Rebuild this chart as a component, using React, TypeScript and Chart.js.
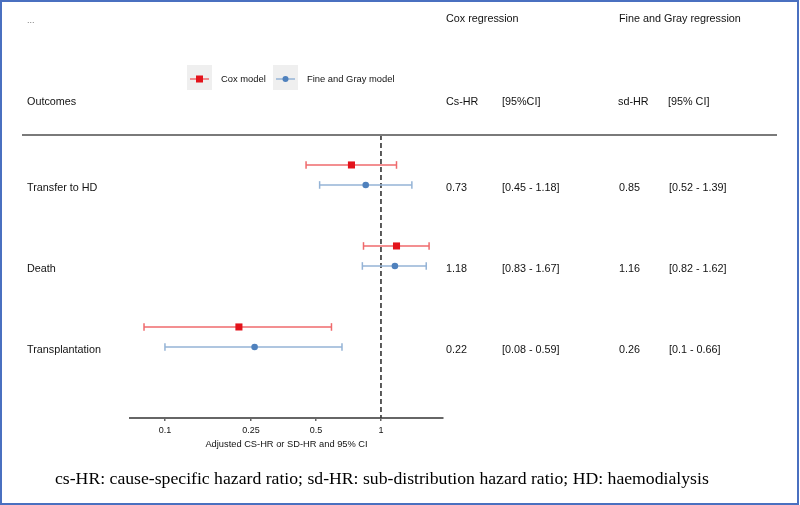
import React, { useEffect, useRef } from "react";
import { Chart, registerables } from "chart.js";

Chart.register(...registerables);

// ---- data ----
const outcomes = ["Transfer to HD", "Death", "Transplantation"];
const coxHR = [0.73, 1.18, 0.22];
const coxLow = [0.45, 0.83, 0.08];
const coxHigh = [1.18, 1.67, 0.59];
const fgHR = [0.85, 1.16, 0.26];
const fgLow = [0.52, 0.82, 0.1];
const fgHigh = [1.39, 1.62, 0.66];
const xTicks = [0.1, 0.25, 0.5, 1];
const seriesNames = ["Cox model", "Fine and Gray model"];
const xTitle = "Adjusted CS-HR or SD-HR and 95% CI";
const caption =
  "cs-HR: cause-specific hazard ratio; sd-HR: sub-distribution hazard ratio; HD: haemodialysis";

// ---- style constants ----
const SANS = "'Liberation Sans', Arial, sans-serif";
const SERIF = "'Liberation Serif', 'Times New Roman', serif";
const RED = "#e3131b";
const RED_LINE = "#ef6a6c";
const BLUE = "#4f81bd";
const BLUE_LINE = "#94b3d6";
const TEXT = "#121212";
const COX_OFF = 0.37;
const FG_OFF = 0.617;
const LABEL_OFF = 0.66;
const Y_MAX = 3.494;

export default function App() {
  const ref = useRef<HTMLCanvasElement | null>(null);

  useEffect(() => {
    document.body.style.margin = "0";
    const canvas = ref.current;
    if (!canvas) return;

    const ciDatasets: any[] = [];
    const addCI = (lo: number[], hi: number[], off: number, color: string) => {
      lo.forEach((l, i) => {
        ciDatasets.push({
          type: "scatter",
          showLine: true,
          data: [
            { x: l, y: i + off },
            { x: hi[i], y: i + off },
          ],
          borderColor: color,
          borderWidth: 1.5,
          pointStyle: "line",
          rotation: 90,
          pointRadius: 3.8,
          pointBorderColor: color,
          pointBorderWidth: 1.5,
          order: 2,
        });
      });
    };
    addCI(coxLow, coxHigh, COX_OFF, RED_LINE);
    addCI(fgLow, fgHigh, FG_OFF, BLUE_LINE);

    const fmt = (v: number) => String(v);

    const textPlugin = {
      id: "forestText",
      afterDraw(chart: any) {
        const ctx: CanvasRenderingContext2D = chart.ctx;
        const y = chart.scales.y;
        const area = chart.chartArea;
        ctx.save();

        // header separator line
        ctx.strokeStyle = "#7a7a7a";
        ctx.lineWidth = 2;
        ctx.beginPath();
        ctx.moveTo(22, area.top);
        ctx.lineTo(777, area.top);
        ctx.stroke();

        ctx.textBaseline = "middle";
        ctx.textAlign = "left";

        ctx.fillStyle = "#777";
        ctx.font = `9px ${SANS}`;
        ctx.fillText("...", 27, 21);

        ctx.fillStyle = TEXT;
        ctx.font = `10.8px ${SANS}`;
        ctx.fillText("Cox regression", 446, 19);
        ctx.fillText("Fine and Gray regression", 619, 19);
        ctx.fillText("Outcomes", 27, 102);
        ctx.fillText("Cs-HR", 446, 102);
        ctx.fillText("[95%CI]", 502, 102);
        ctx.fillText("sd-HR", 618, 102);
        ctx.fillText("[95% CI]", 668, 102);

        outcomes.forEach((name, i) => {
          const py = y.getPixelForValue(i + LABEL_OFF);
          ctx.fillText(name, 27, py);
          ctx.fillText(fmt(coxHR[i]), 446, py);
          ctx.fillText(`[${fmt(coxLow[i])} - ${fmt(coxHigh[i])}]`, 502, py);
          ctx.fillText(fmt(fgHR[i]), 619, py);
          ctx.fillText(`[${fmt(fgLow[i])} - ${fmt(fgHigh[i])}]`, 669, py);
        });

        // legend
        const drawKey = (bx: number, color: string, lineColor: string, shape: string, label: string) => {
          ctx.fillStyle = "#efefef";
          ctx.fillRect(bx, 65, 25, 25);
          ctx.strokeStyle = lineColor;
          ctx.lineWidth = 1.5;
          ctx.beginPath();
          ctx.moveTo(bx + 3, 79);
          ctx.lineTo(bx + 22, 79);
          ctx.stroke();
          ctx.fillStyle = color;
          if (shape === "rect") {
            ctx.fillRect(bx + 9, 75.5, 7, 7);
          } else {
            ctx.beginPath();
            ctx.arc(bx + 12.5, 79, 3, 0, Math.PI * 2);
            ctx.fill();
          }
          ctx.fillStyle = TEXT;
          ctx.font = `9.4px ${SANS}`;
          ctx.fillText(label, bx + 34, 79);
        };
        drawKey(187, RED, RED_LINE, "rect", seriesNames[0]);
        drawKey(273, BLUE, BLUE_LINE, "circle", seriesNames[1]);

        // caption
        ctx.fillStyle = "#000";
        ctx.font = `17.7px ${SERIF}`;
        ctx.fillText(caption, 55, 479);

        // frame
        ctx.strokeStyle = "#4a70c0";
        ctx.lineWidth = 2;
        ctx.strokeRect(1, 1, 797, 503);
        ctx.restore();
      },
    };

    const bgPlugin = {
      id: "bg",
      beforeDraw(chart: any) {
        const ctx = chart.ctx;
        ctx.save();
        ctx.fillStyle = "#fff";
        ctx.fillRect(0, 0, chart.width, chart.height);
        ctx.restore();
      },
    };

    const chart = new Chart(canvas, {
      type: "scatter",
      data: {
        datasets: [
          {
            label: seriesNames[0],
            data: coxHR.map((v, i) => ({ x: v, y: i + COX_OFF })),
            pointStyle: "rect",
            pointRadius: 5,
            backgroundColor: RED,
            borderColor: RED,
            borderWidth: 0,
            order: 0,
          },
          {
            label: seriesNames[1],
            data: fgHR.map((v, i) => ({ x: v, y: i + FG_OFF })),
            pointStyle: "circle",
            pointRadius: 3.3,
            backgroundColor: BLUE,
            borderColor: BLUE,
            borderWidth: 0,
            order: 0,
          },
          ...ciDatasets,
          {
            type: "scatter",
            showLine: true,
            data: [
              { x: 1, y: 0 },
              { x: 1, y: Y_MAX },
            ],
            borderColor: "#333",
            borderWidth: 1.6,
            borderDash: [5, 3],
            pointRadius: 0,
            order: 3,
          },
        ] as any,
      },
      options: {
        animation: false,
        responsive: false,
        devicePixelRatio: 1,
        layout: { padding: { left: 130, right: 357, top: 135, bottom: 55 } },
        plugins: { legend: { display: false }, tooltip: { enabled: false } },
        scales: {
          x: {
            type: "logarithmic",
            min: 0.0689,
            max: 1.937,
            afterBuildTicks: (scale: any) => {
              scale.ticks = xTicks.map((v) => ({ value: v }));
            },
            afterFit: (scale: any) => {
              scale.height = 32;
            },
            border: { display: true, color: "#666", width: 2 },
            grid: {
              display: true,
              drawOnChartArea: false,
              drawTicks: true,
              tickLength: 3,
              color: "#666",
              lineWidth: 1.5,
            },
            ticks: {
              autoSkip: false,
              maxRotation: 0,
              padding: 4,
              color: TEXT,
              font: { family: SANS, size: 9 },
              callback: (v: any) => String(v),
            },
            title: {
              display: true,
              text: xTitle,
              color: TEXT,
              font: { family: SANS, size: 9.3 },
              padding: { top: 0, bottom: 0 },
            },
          },
          y: {
            type: "linear",
            display: false,
            reverse: true,
            min: 0,
            max: Y_MAX,
          },
        },
      } as any,
      plugins: [bgPlugin, textPlugin],
    });

    return () => chart.destroy();
  }, []);

  return (
    <div style={{ width: 800, height: 505, position: "relative" }}>
      <canvas ref={ref} width={800} height={505} style={{ display: "block" }} />
    </div>
  );
}
